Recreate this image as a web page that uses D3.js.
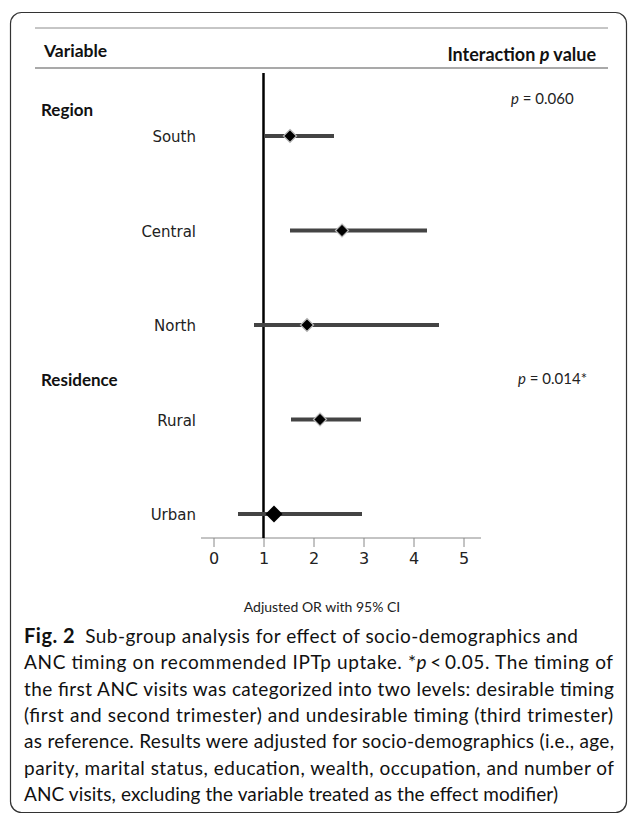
<!DOCTYPE html>
<html>
<head>
<meta charset="utf-8">
<script src="https://cdn.jsdelivr.net/npm/d3@7"></script>
<style>
body { margin: 0; background: #fff; }
</style>
</head>
<body>
<div id="chart"></div>
<script>
// data
var categories = ["South", "Central", "North", "Rural", "Urban"];
var oddsRatio = [1.53, 2.57, 1.87, 2.13, 1.21];
var ciLow = [1.01, 1.53, 0.81, 1.55, 0.49];
var ciHigh = [2.41, 4.27, 4.51, 2.95, 2.97];
var groups = ["Region", "Residence"];
var groupRow = [-0.28, 2.58];
var pValues = ["0.060", "0.014*"];
var xTicks = [0, 1, 2, 3, 4, 5];

var captionLines = [
    "Sub-group analysis for effect of socio-demographics and",
    "ANC timing on recommended IPTp uptake. *p\u2009<\u20090.05. The timing of",
    "the first ANC visits was categorized into two levels: desirable timing",
    "(first and second trimester) and undesirable timing (third trimester)",
    "as reference. Results were adjusted for socio-demographics (i.e., age,",
    "parity, marital status, education, wealth, occupation, and number of",
    "ANC visits, excluding the variable treated as the effect modifier)"
];
// right end of each caption line as printed
var captionEnd = [578, 613, 614, 613, 614, 614, 558];

var svg = d3.select("#chart")
    .append("svg")
    .attr("width", 629)
    .attr("height", 816);

var calibri = "Lato, 'Open Sans', sans-serif";
var verdana = "'DejaVu Sans', Verdana, sans-serif";

// frame
svg.append("rect")
    .attr("x", 10.5).attr("y", 12.5)
    .attr("width", 616).attr("height", 800)
    .attr("rx", 11)
    .style("fill", "none")
    .style("stroke", "#333")
    .style("stroke-width", 1.2);

// header rules
svg.append("line").attr("x1", 35).attr("x2", 608).attr("y1", 28).attr("y2", 28)
    .style("stroke", "#8c8c8c").style("stroke-width", 1);
svg.append("line").attr("x1", 35).attr("x2", 608).attr("y1", 68).attr("y2", 68)
    .style("stroke", "#8c8c8c").style("stroke-width", 1.5);

svg.append("text")
    .attr("x", 44).attr("y", 57)
    .style("font-family", calibri).style("font-weight", "bold")
    .style("font-size", "17.5px").style("fill", "#111")
    .text("Variable");

var hdr = svg.append("text")
    .attr("x", 596).attr("y", 61)
    .attr("text-anchor", "end")
    .style("font-family", calibri).style("font-weight", "bold")
    .style("font-size", "18px").style("fill", "#111");
hdr.append("tspan").text("Interaction ");
hdr.append("tspan").style("font-style", "italic").text("p");
hdr.append("tspan").text(" value");

var xScale = d3.scaleLinear().domain([0, 5]).range([213.5, 463.5]);
var yScale = d3.scaleLinear().domain([0, 4]).range([136, 514]);
var axisY = 538;

// x axis
var axis = svg.append("g")
    .attr("transform", "translate(0," + axisY + ")")
    .call(d3.axisBottom(xScale).tickValues(xTicks).tickFormat(d3.format("d"))
        .tickSize(9).tickPadding(6).tickSizeOuter(0));
axis.select(".domain").remove();
axis.append("line").attr("x1", 201).attr("x2", 481)
    .style("stroke", "#888").style("stroke-width", 1);
axis.selectAll(".tick line").style("stroke", "#888");
axis.selectAll(".tick text")
    .style("font-family", verdana).style("font-size", "16px").style("fill", "#222");

svg.append("text")
    .attr("x", 322).attr("y", 612)
    .attr("text-anchor", "middle")
    .style("font-family", calibri).style("font-size", "14px").style("fill", "#222")
    .text("Adjusted OR with 95% CI");

// group headings and interaction p values
svg.selectAll(".group")
    .data(groups)
    .enter()
    .append("text")
    .attr("class", "group")
    .attr("x", 41)
    .attr("y", function(d, i) { return yScale(groupRow[i]) + 6; })
    .style("font-family", calibri).style("font-weight", "bold")
    .style("font-size", "17px").style("fill", "#111")
    .text(function(d) { return d; });

var pv = svg.selectAll(".pval")
    .data(pValues)
    .enter()
    .append("text")
    .attr("class", "pval")
    .attr("x", function(d, i) { return i == 0 ? 511 : 518; })
    .attr("y", function(d, i) { return yScale(groupRow[i]) + (i == 0 ? -6 : 4); })
    .style("font-family", calibri).style("font-size", "15px").style("fill", "#222");
pv.append("tspan").style("font-style", "italic").text("p");
pv.append("tspan").text(function(d) { return " = " + d; });

// row labels
svg.selectAll(".cat")
    .data(categories)
    .enter()
    .append("text")
    .attr("class", "cat")
    .attr("x", 196)
    .attr("y", function(d, i) { return yScale(i) + 6; })
    .attr("text-anchor", "end")
    .style("font-family", verdana).style("font-size", "15px").style("fill", "#222")
    .text(function(d) { return d; });

// reference line at OR = 1
svg.append("line")
    .attr("x1", xScale(1)).attr("x2", xScale(1))
    .attr("y1", 73).attr("y2", axisY)
    .style("stroke", "#000").style("stroke-width", 2.5);

// confidence intervals
svg.selectAll(".ci")
    .data(categories)
    .enter()
    .append("line")
    .attr("class", "ci")
    .attr("x1", function(d, i) { return xScale(ciLow[i]); })
    .attr("x2", function(d, i) { return xScale(ciHigh[i]); })
    .attr("y1", function(d, i) { return yScale(i); })
    .attr("y2", function(d, i) { return yScale(i); })
    .style("stroke", "#444")
    .style("stroke-width", 4);

// point estimates
svg.selectAll(".dot")
    .data(categories)
    .enter()
    .append("path")
    .attr("class", "dot")
    .attr("transform", function(d, i) {
        return "translate(" + xScale(oddsRatio[i]) + "," + yScale(i) + ")";
    })
    .attr("d", function(d, i) {
        var r = i == 4 ? 8.5 : 6.5;
        return "M0," + (-r) + "L" + r + ",0L0," + r + "L" + (-r) + ",0Z";
    })
    .style("fill", "#000")
    .style("stroke", function(d, i) { return i == 4 ? "none" : "#bbb"; })
    .style("stroke-width", 1.2);

// caption
var capX = 24, capY = 643, capStep = 26.3;
var cap = svg.append("g");
var first = cap.append("text")
    .attr("x", capX).attr("y", capY)
    .attr("textLength", captionEnd[0] - capX)
    .attr("lengthAdjust", "spacing")
    .style("font-family", calibri).style("font-size", "19px").style("fill", "#111");
first.append("tspan").style("font-weight", "bold").style("font-size", "20px").text("Fig. 2");
first.append("tspan").text("\u2002" + captionLines[0]);

cap.selectAll(".capline")
    .data(captionLines.slice(1))
    .enter()
    .append("text")
    .attr("class", "capline")
    .attr("x", capX)
    .attr("y", function(d, i) { return capY + capStep * (i + 1); })
    .attr("textLength", function(d, i) { return captionEnd[i + 1] - capX; })
    .attr("lengthAdjust", "spacing")
    .style("font-family", calibri).style("font-size", "19px").style("fill", "#111")
    .each(function(d) {
        var t = d3.select(this);
        var k = d.indexOf("*p");
        if (k >= 0) {
            t.append("tspan").text(d.slice(0, k + 1));
            t.append("tspan").style("font-style", "italic").text("p");
            t.append("tspan").text(d.slice(k + 2));
        } else {
            t.text(d);
        }
    });
</script>
</body>
</html>
